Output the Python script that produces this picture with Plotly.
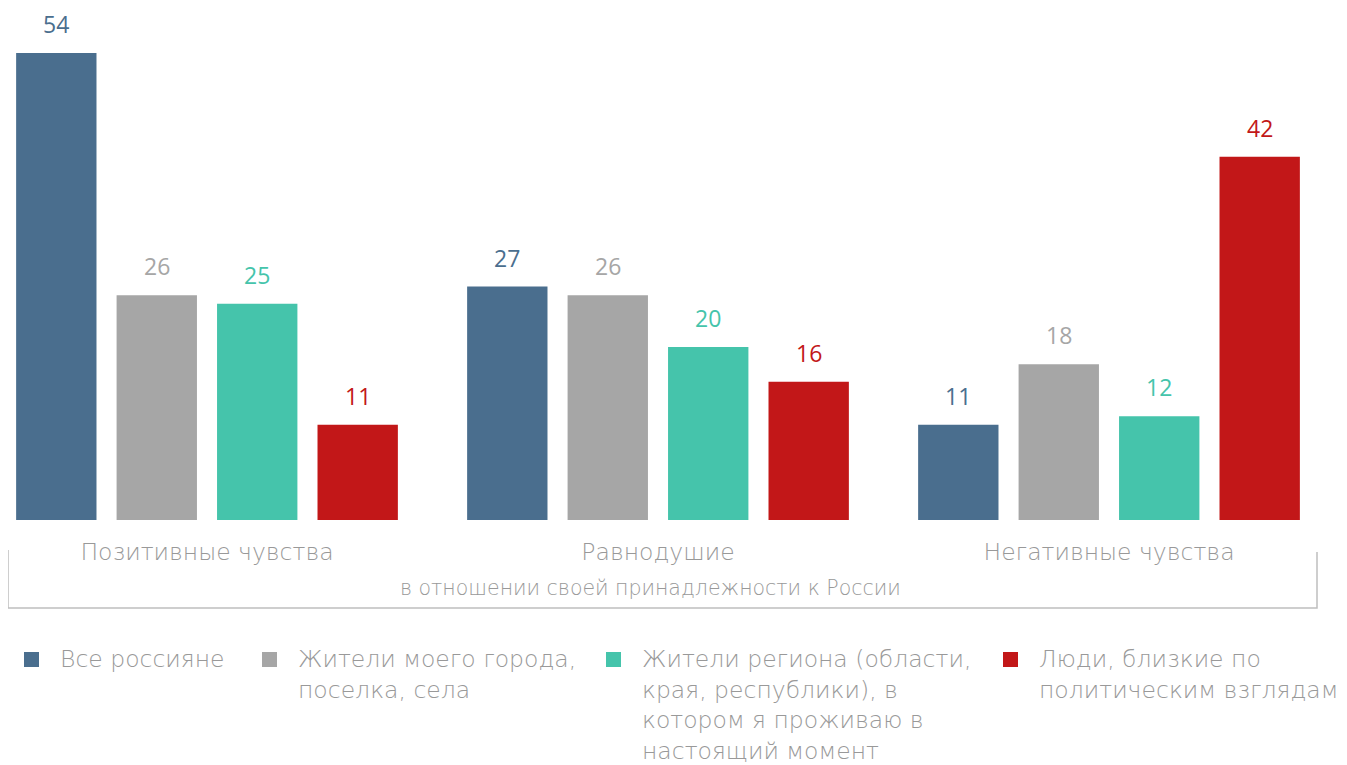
import plotly.graph_objects as go

categories = ["Позитивные чувства", "Равнодушие", "Негативные чувства"]
series_names = [
    "Все россияне",
    "Жители моего города,<br>поселка, села",
    "Жители региона (области,<br>края, республики), в<br>котором я проживаю в<br>настоящий момент",
    "Люди, близкие по<br>политическим взглядам",
]
values = [
    [54, 27, 11],
    [26, 26, 18],
    [25, 20, 12],
    [11, 16, 42],
]
colors = ["#4A6E8E", "#A6A6A6", "#45C4AB", "#C21718"]
label_colors = ["#4A6E8E", "#A6A6A6", "#45C4AB", "#C21718"]
subtitle = "в отношении своей принадлежности к России"

OFF = 8  # page body margin
W, H = 1347 - OFF, 765 - OFF
T, B, L, R = 0, 765 - 520, 0, 0
plot_h = H - T - B
plot_w = W - L - R

def px(x):
    return (x - OFF - L) / plot_w

def py(y):
    return (H - B - (y - OFF)) / plot_h

cat_px = 451.0
first_center = 207.0 - OFF
bargap = 0.109
bargroupgap = 0.2
y_per_px = 54 / 467.0

fig = go.Figure()
for i, name in enumerate(series_names):
    fig.add_trace(go.Bar(
        x=categories, y=values[i], name=name,
        marker=dict(color=colors[i], line=dict(width=0)),
        showlegend=False,
    ))

slot = cat_px * (1 - bargap) / len(series_names)
for i in range(len(series_names)):
    off = (i - (len(series_names) - 1) / 2) * slot
    for c, v in zip(categories, values[i]):
        fig.add_annotation(
            x=c, y=v, xref="x", yref="y", text=str(v), showarrow=False,
            xshift=off, yshift=29, yanchor="middle", xanchor="center",
            font=dict(family="Open Sans", size=23, color=label_colors[i]),
        )

TXT = "DejaVu Sans"
GREY = "#999999"
fig.add_annotation(
    x=px(650), y=py(588), xref="paper", yref="paper", text=subtitle,
    showarrow=False, xanchor="center", yanchor="middle",
    font=dict(family=TXT, size=20.5, color=GREY, weight=200),
)

line_style = dict(color="#BFBFBF", width=1.5)
fig.add_shape(type="path", xref="paper", yref="paper",
              path=f"M {px(8)} {py(550)} L {px(8)} {py(608)} L {px(1317)} {py(608)} L {px(1317)} {py(552)}",
              line=line_style)

leg_x = [24, 262, 606, 1003]
for i, name in enumerate(series_names):
    fig.add_shape(type="rect", xref="paper", yref="paper",
                  x0=px(leg_x[i]), x1=px(leg_x[i] + 15), y0=py(652), y1=py(667),
                  fillcolor=colors[i], line=dict(width=0))
    fig.add_annotation(
        x=px(leg_x[i] + 34), y=py(643), xref="paper", yref="paper", text=name,
        showarrow=False, xanchor="left", yanchor="top", align="left",
        font=dict(family=TXT, size=23.5, color=GREY, weight=200),
    )

x0 = (0 - first_center) / cat_px
x1 = (W - first_center) / cat_px
fig.update_layout(
    width=W, height=H,
    margin=dict(t=T, b=B, l=L, r=R),
    paper_bgcolor="white", plot_bgcolor="white",
    barmode="group", bargap=bargap, bargroupgap=bargroupgap,
    xaxis=dict(range=[x0, x1], showgrid=False, zeroline=False, showline=False,
               ticks="", ticklabelstandoff=15,
               tickfont=dict(family=TXT, size=23.5, color=GREY, weight=200)),
    yaxis=dict(range=[0, plot_h * y_per_px], visible=False),
    font=dict(family="Open Sans"),
)

fig.write_html("out.html")
